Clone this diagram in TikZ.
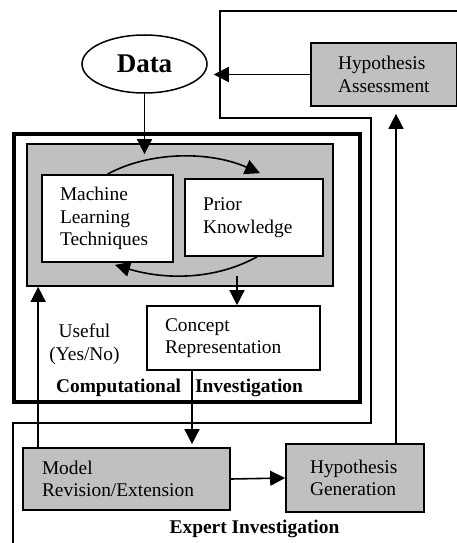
\documentclass[tikz,border=0pt]{standalone}
\usepackage{fontspec}
\setmainfont{Liberation Serif}
\usetikzlibrary{arrows.meta,shapes.geometric,calc}
\definecolor{panelgray}{HTML}{C0C0C0}
\tikzset{
  txt/.style={font=\fontsize{19.4}{22.6}\selectfont},
  box/.style={txt, draw, line width=1.7pt, align=left, inner xsep=0pt, inner ysep=0pt},
  shaded/.style={box, fill=panelgray},
  plain/.style={box, fill=white},
  link/.style={line width=1.6pt, -{Triangle[length=15pt,width=15pt]}},
  outline/.style={line width=1.4pt},
  heading/.style={txt, font=\fontsize{19.4}{22.6}\selectfont\bfseries, inner sep=0pt},
}
\begin{document}
\begin{tikzpicture}[x=1pt,y=-1pt]
\useasboundingbox (0,0) rectangle (456,543);

% region of the expert investigation
\draw[outline] (458,11) -- (220,11) -- (220,118) -- (371,118) -- (371,423)
  -- (13,423) -- (13,545);

% computational investigation frame and its shaded panel
\node[draw, line width=4pt, minimum width=346, minimum height=268, inner sep=0pt]
  (comp) at (187,268) {};
\node[shaded, minimum width=306, minimum height=142] (panel) at (180,215) {};

% data source
\node[draw, ellipse, line width=1.5pt, minimum width=125, minimum height=58,
  inner sep=0pt, font=\fontsize{27}{30}\selectfont\bfseries] (data) at (144.5,64) {Data};

% boxes
\node[shaded, minimum width=146, minimum height=63, text width=92] (ha) at (384,74.5)
  {Hypothesis\\Assessment};
\node[plain, minimum width=131, minimum height=87, text width=95] (mlt) at (107.5,218.5)
  {Machine\\Learning\\Techniques};
\node[plain, minimum width=138, minimum height=77, text width=102] (pk) at (254,217.5)
  {Prior\\Knowledge};
\node[plain, minimum width=173, minimum height=64, text width=137] (cr) at (233.5,338)
  {Concept\\Representation};
\node[shaded, minimum width=207, minimum height=62, text width=169] (model) at (126.5,479)
  {Model\\Revision/Extension};
\node[shaded, minimum width=138, minimum height=68, text width=90] (hg) at (355,478)
  {Hypothesis\\Generation};

% labels
\node[txt, align=center, inner sep=0pt] (useful) at (84.5,344) {Useful\\(Yes/No)};
\node[heading] (complabel) at (179.5,387.5) {Computational\hspace{14pt}Investigation};
\node[heading] (explabel) at (254.5,528.5) {Expert Investigation};

% connectors
\draw[link, shorten >=6pt] (ha.west) -- (ha.west -| data.east);
\draw[link, shorten >=-11pt] (data.south) -- (data.south |- panel.north);
\draw[link] (mlt.north) .. controls (150,151) and (210,151) .. ([xshift=6pt,yshift=5pt]pk.north);
\draw[link] ([xshift=3pt]pk.south) .. controls (215,280) and (165,280) .. ([xshift=7.5pt,yshift=-2pt]mlt.south);

\coordinate (crin) at ($(cr.north)+(3.5,-29)$);
\draw[link] (crin) -- (crin |- cr.north);

\coordinate (crout) at ($(cr.south)+(-41.5,0)$);
\draw[link, shorten >=3pt] (crout) -- (crout |- model.north);

\coordinate (usefulfoot) at ($(model.north west)+(16,0)$);
\draw[link] (usefulfoot) -- (usefulfoot |- panel.south);

\draw[link] (model.east) -- (hg.west);

\coordinate (hgout) at ($(hg.north)+(41,0)$);
\draw[link, shorten >=7pt] (hgout) -- (hgout |- ha.south);
\end{tikzpicture}
\end{document}
